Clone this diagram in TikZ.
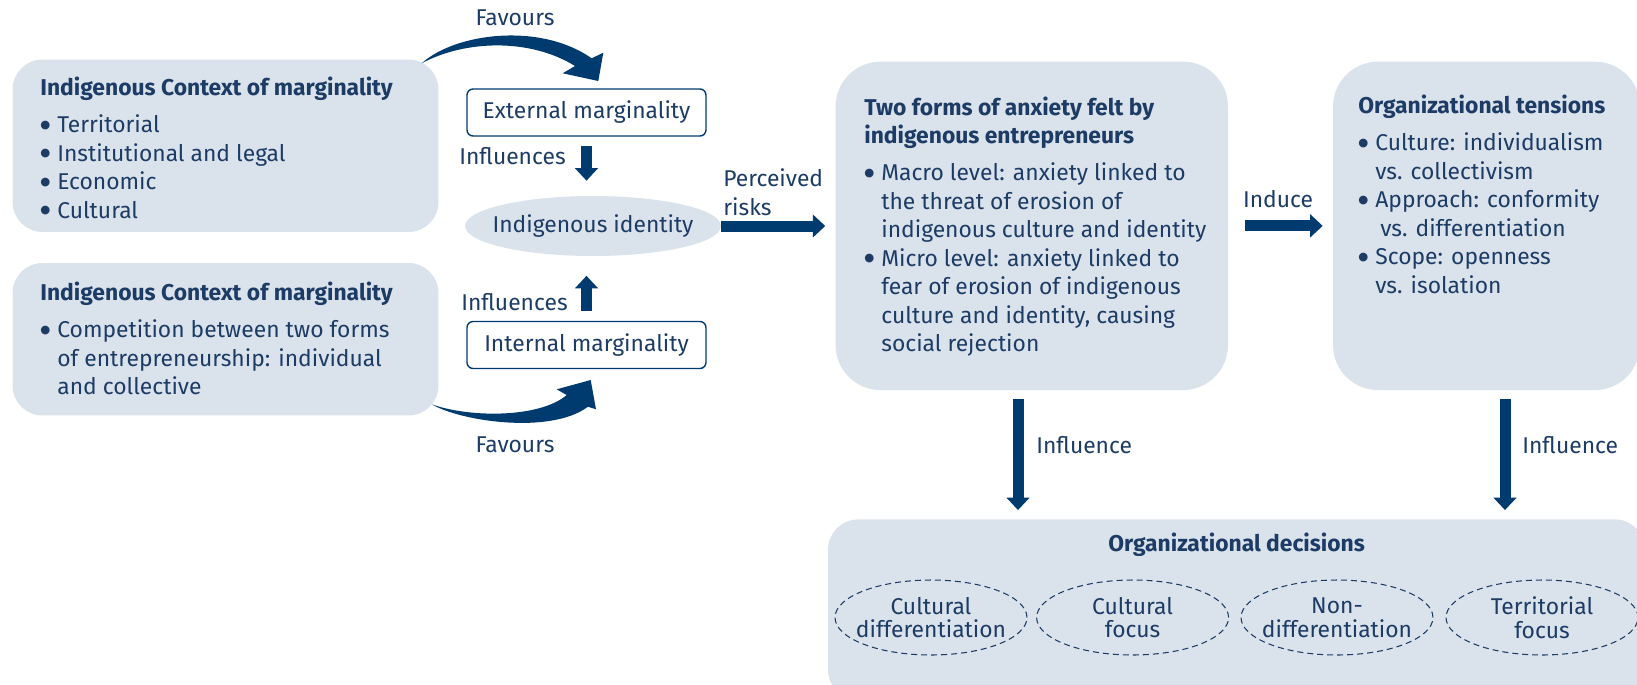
\documentclass[tikz,border=0pt]{standalone}
\usepackage{fontspec}
\setmainfont{Fira Sans}
\newfontfamily\dotfont{DejaVu Sans}
\usetikzlibrary{arrows.meta,positioning,shapes.geometric}

\definecolor{navy}{RGB}{0,59,112}
\definecolor{panel}{RGB}{218,226,235}
\definecolor{ink}{RGB}{28,60,102}

\newcommand{\bul}{\makebox[0.34cm][l]{\raisebox{2.5pt}{\dotfont\fontsize{6.5}{7}\selectfont ●}}}
\newcommand{\ind}{\hspace*{0.34cm}}

\begin{document}
\begin{tikzpicture}[x=0.02cm,y=-0.02cm,
  every node/.style={text=ink,font=\fontsize{13}{16.2}\selectfont},
  panelbox/.style={fill=panel,rounded corners=0.6cm,minimum width=8.52cm,inner sep=0},
  bigpanel/.style={fill=panel,rounded corners=0.9cm,minimum height=6.57cm,inner sep=0},
  markbox/.style={draw=navy,line width=0.8pt,fill=white,rounded corners=0.12cm,
    minimum width=4.78cm,minimum height=0.94cm,inner sep=0},
  choice/.style={ellipse,draw=ink,line width=0.6pt,dash pattern=on 0.12cm off 0.08cm,
    minimum width=3.84cm,minimum height=1.5cm,inner sep=0},
  choicetxt/.style={align=center,inner sep=0,font=\fontsize{13}{13.5}\selectfont},
  body/.style={anchor=north west,align=left,inner sep=0},
  blockarrow/.style={draw=navy,line width=0.22cm,-{Triangle[length=0.25cm,width=0.45cm]}},
]
\useasboundingbox (0,0) rectangle (1637,684);

% context panels
\node[panelbox,minimum height=3.45cm] (ctxA) at (225.5,145.75) {};
\node[panelbox,minimum height=3.05cm] (ctxB) at (225.5,339.25) {};
\node[body] (ctxAtxt) at (40,77) {\textbf{Indigenous Context of marginality}\\[4.8pt]
  \bul Territorial\\
  \bul Institutional and legal\\
  \bul Economic\\
  \bul Cultural};
\node[body] (ctxBtxt) at (40,282) {\textbf{Indigenous Context of marginality}\\[4.8pt]
  \bul Competition between two forms\\
  \ind of entrepreneurship: individual\\
  \ind and collective};

% marginality
\node[markbox] (ext) at (586.5,112.5) {External marginality};
\node[markbox] (int) at (586.5,345) {Internal marginality};
\node[ellipse,fill=panel,minimum width=5.12cm,minimum height=1.2cm,inner sep=0] (ident) at (593,226) {};
\node[inner sep=0] (identtxt) at (ident) {Indigenous identity};

\node[anchor=base west,inner sep=0] (inflA) at (459,164) {Influences};
\node[anchor=base west,inner sep=0] (inflB) at (461,310) {Influences};
\draw[blockarrow,shorten <=0.18cm,shorten >=0.3cm] (ext.south) -- (ext.south |- ident.north);
\draw[blockarrow,shorten <=0.2cm,shorten >=0.39cm] (int.north) -- (int.north |- ident.south);

% favours
\node (favA) at (515,18) {Favours};
\node (favB) at (515,445) {Favours};
\coordinate (tailA) at (421.7,63.3);
\coordinate (tailB) at (431.7,404.3);
\fill[navy] (tailA) .. controls (455,33) and (540,22) .. (591.7,58.3) -- (603.3,52.7)
  -- (598.3,81) -- (562.7,73.3) -- (575,66) .. controls (530,38) and (465,40) .. (tailA);
\fill[navy] (tailB) .. controls (460,421) and (550,435) .. (588,406.7) -- (596,409.3)
  -- (590.7,380) -- (556.7,389.3) -- (566.7,395) .. controls (540,418) and (470,418) .. (tailB);

% anxiety and tensions
\node[bigpanel,minimum width=7.85cm] (anx) at (1031.8,225.85) {};
\node[bigpanel,minimum width=6.14cm] (tens) at (1486.5,225.85) {};
\node[body] (anxtxt) at (864,96.5) {\textbf{Two forms of anxiety felt by}\\
  \textbf{indigenous entrepreneurs}\\[4.8pt]
  \bul Macro level: anxiety linked to\\
  \ind the threat of erosion of\\
  \ind indigenous culture and identity\\
  \bul Micro level: anxiety linked to\\
  \ind fear of erosion of indigenous\\
  \ind culture and identity, causing\\
  \ind social rejection};
\node[body] (tenstxt) at (1358,95) {\textbf{Organizational tensions}\\[4.8pt]
  \bul Culture: individualism\\
  \ind vs. collectivism\\
  \bul Approach: conformity\\
  \ind\hspace*{0.1cm}vs. differentiation\\
  \bul Scope: openness\\
  \ind vs. isolation};

\node[body] (risk) at (723,168.5) {Perceived\\risks};
\draw[blockarrow,shorten >=0.2cm] (ident.east) -- (anx.west |- ident.east);
\node (induce) at (1278,199) {Induce};
\draw[blockarrow,shorten <=0.33cm,shorten >=0.2cm] (anx.east) -- (tens.west);

% decisions
\node[fill=panel,rounded corners=0.6cm,minimum width=16.34cm,minimum height=3.61cm,inner sep=0] (dec) at (1236.5,609.65) {};
\node[font=\fontsize{13}{16.2}\selectfont\bfseries] (dectitle) at (1236.7,545) {Organizational decisions};
\node[choice] (cdiff) at (931,617.5) {};
\node[choice] (cfoc) at (1132.6,617.5) {};
\node[choice] (ndiff) at (1337,617.5) {};
\node[choice] (tfoc) at (1542,617.5) {};
\node[choicetxt] (cdifftxt) at (cdiff) {Cultural\\differentiation};
\node[choicetxt] (cfoctxt) at (cfoc) {Cultural\\focus};
\node[choicetxt] (ndifftxt) at (ndiff) {Non-\\differentiation};
\node[choicetxt] (tfoctxt) at (tfoc) {Territorial\\focus};

\draw[blockarrow,shorten <=0.18cm,shorten >=0.18cm] ([xshift=-0.276cm]anx.south) -- ([xshift=-0.276cm]anx.south |- dec.north);
\draw[blockarrow,shorten <=0.18cm,shorten >=0.18cm] ([xshift=0.37cm]tens.south) -- ([xshift=0.37cm]tens.south |- dec.north);
\node[anchor=west,inner sep=0] (inflC) at (1036,445) {Influence};
\node[anchor=west,inner sep=0] (inflD) at (1522,445) {Influence};
\end{tikzpicture}
\end{document}
